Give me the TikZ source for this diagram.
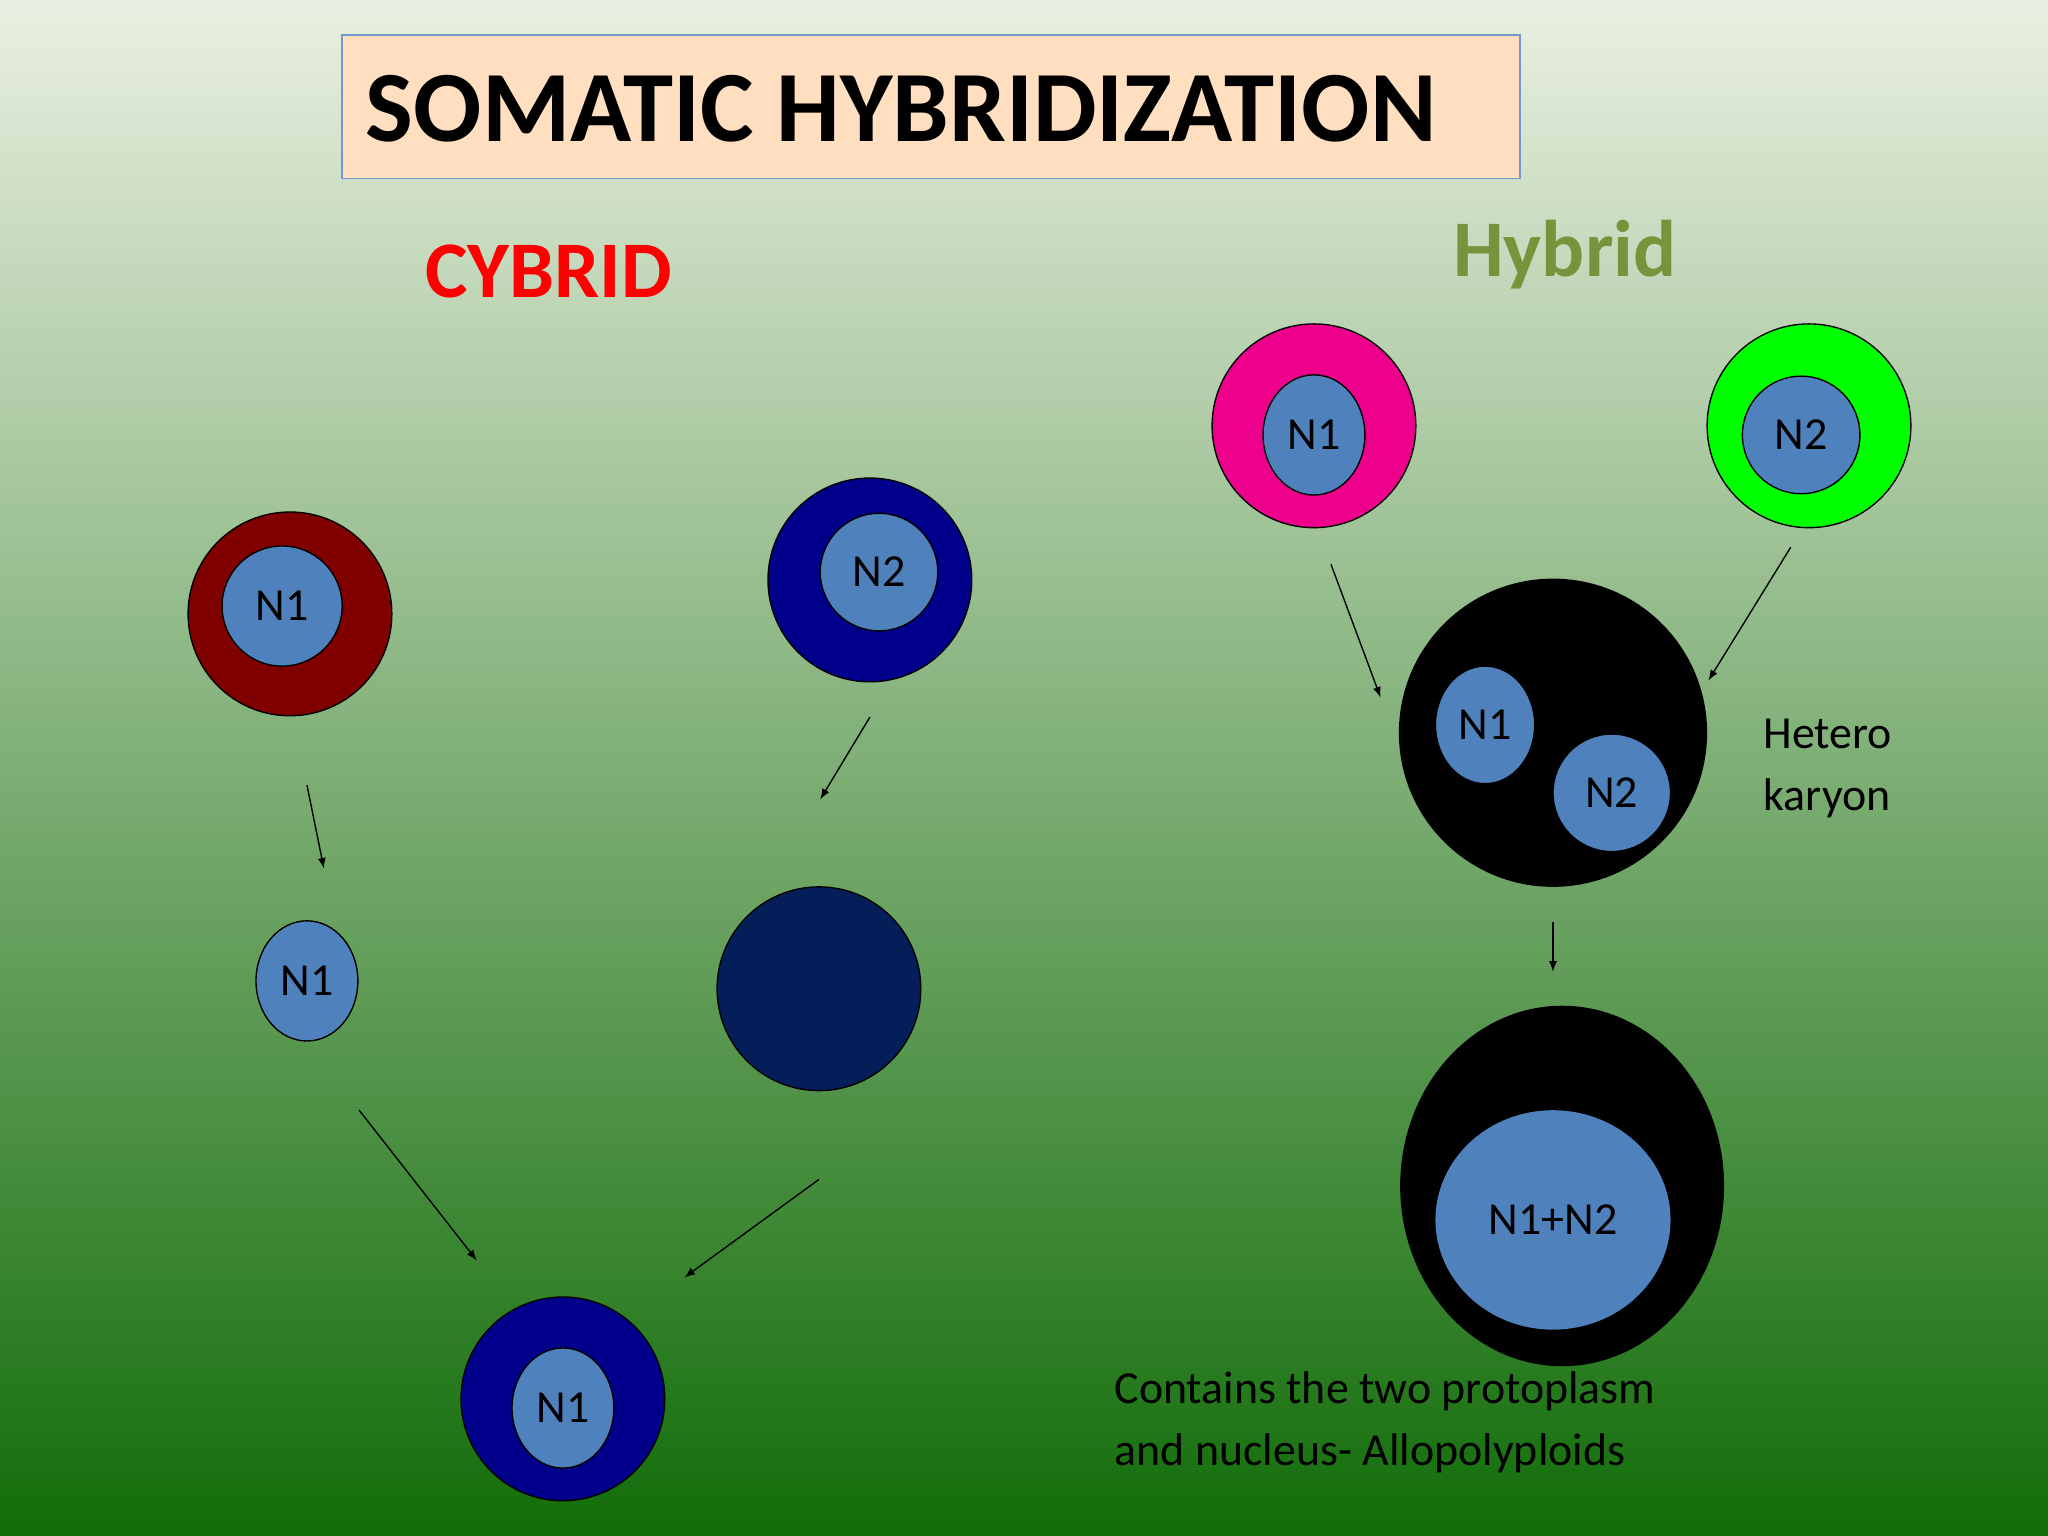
\documentclass[tikz,border=0pt]{standalone}
\usepackage{fontspec}
\usetikzlibrary{shapes.geometric}
\setmainfont{Carlito}
\definecolor{nuc}{HTML}{4F81BD}
\definecolor{navy}{HTML}{00008B}
\definecolor{dnavy}{HTML}{041E5A}
\definecolor{olive}{HTML}{77933C}
\begin{document}
\begin{tikzpicture}[x=0.02cm,y=-0.02cm,
  cell/.style={circle,draw=black,line width=0.6pt,minimum size=156*0.02cm,inner sep=0},
  nucl/.style={ellipse,draw=black,line width=0.6pt,fill=nuc,inner sep=0,font=\fontsize{20}{24}\selectfont},
  arr/.style={-latex,line width=0.6pt}]
\useasboundingbox (0,0) rectangle (1568,1176);
\shade[top color=green!5!olive!15!white, middle color=olive!60!white!95!black, bottom color=green!40!black!85!olive] (0,0) rectangle (1568,1176);
\node[draw=nuc!80!white,fill=orange!25!white,line width=0.8pt,minimum width=902*0.02cm,minimum height=110*0.02cm,anchor=north west,inner sep=0] (title) at (261,26) {};
\node[anchor=west,font=\fontsize{44}{50}\bfseries\selectfont] (tt) at (274,83) {SOMATIC HYBRIDIZATION};
\node[text=red,font=\fontsize{35}{40}\bfseries\selectfont] (cy) at (420,208) {CYBRID};
\node[text=olive,font=\fontsize{35}{40}\bfseries\selectfont] (hy) at (1198,195) {Hybrid};
% cybrid
\node[cell,fill=red!50!black] (c1) at (222,470) {};
\node[nucl,minimum width=92*0.02cm,minimum height=92*0.02cm] (n1) at (216,464) {N1};
\node[cell,fill=navy] (c2) at (666,444) {};
\node[nucl,minimum width=90*0.02cm,minimum height=90*0.02cm] (n2) at (673,438) {N2};
\node[nucl,minimum width=78*0.02cm,minimum height=92*0.02cm] (n1b) at (235,751) {N1};
\node[cell,fill=dnavy] (c3) at (627,757) {};
\node[cell,fill=navy] (c4) at (431,1071) {};
\node[nucl,minimum width=78*0.02cm,minimum height=92*0.02cm] (n1c) at (431,1078) {N1};
% hybrid
\node[cell,fill=magenta] (h1) at (1006,326) {};
\node[nucl,minimum width=78*0.02cm,minimum height=92*0.02cm] (hn1) at (1006,333) {N1};
\node[cell,fill=green] (h2) at (1385,326) {};
\node[nucl,minimum width=90*0.02cm,minimum height=90*0.02cm] (hn2) at (1379,333) {N2};
\node[circle,fill=black,minimum size=236*0.02cm,inner sep=0] (het) at (1189,561) {};
\node[nucl,minimum width=76*0.02cm,minimum height=90*0.02cm] (hk1) at (1137,555) {N1};
\node[nucl,minimum width=90*0.02cm,minimum height=90*0.02cm] (hk2) at (1234,607) {N2};
\node[ellipse,fill=black,minimum width=248*0.02cm,minimum height=276*0.02cm,inner sep=0] (fus) at (1196,908) {};
\node[ellipse,fill=nuc,minimum width=180*0.02cm,minimum height=168*0.02cm,inner sep=0,font=\fontsize{20}{24}\selectfont] (fn) at (1189,934) {N1+N2};
\node[anchor=north west,align=left,font=\fontsize{20}{27}\selectfont,inner sep=0] (hk) at (1350,550) {Hetero\\karyon};
\node[anchor=north west,align=left,font=\fontsize{20}{27}\selectfont,inner sep=0] (bt) at (853,1050) {Contains the two protoplasm\\and nucleus- Allopolyploids};
% arrows
\coordinate (a1) at (235,601); \coordinate (b1) at (248,665);
\coordinate (a2) at (666,549); \coordinate (b2) at (628,612);
\coordinate (a3) at (275,850); \coordinate (b3) at (365,965);
\coordinate (a4) at (627,903); \coordinate (b4) at (524,978);
\coordinate (a5) at (1019,432); \coordinate (b5) at (1057,534);
\coordinate (a6) at (1371,419); \coordinate (b6) at (1308,521);
\coordinate (a7) at (1189,706); \coordinate (b7) at (1189,744);
\foreach \i in {1,...,7} \draw[arr] (a\i) -- (b\i);
\end{tikzpicture}
\end{document}
